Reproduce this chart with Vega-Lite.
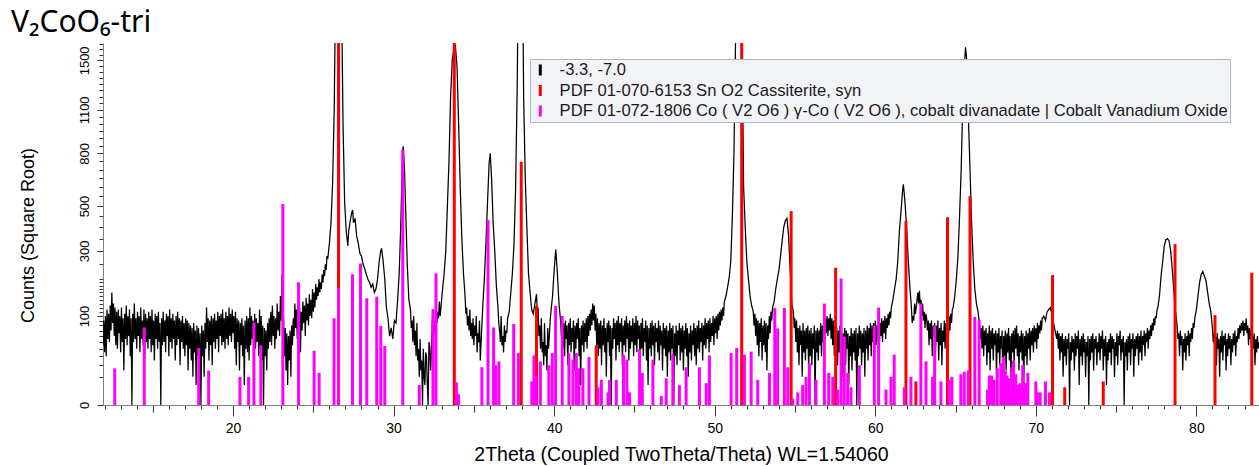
{
  "$schema": "https://vega.github.io/schema/vega-lite/v6.json",
  "width": 1156,
  "height": 362,
  "autosize": {"type": "none"},
  "padding": {"left": 103, "top": 43, "right": 0, "bottom": 61},
  "background": "white",
  "config": {"view": {"stroke": null}},
  "title": {"text": "V₂CoO₆-tri", "anchor": "start", "frame": "group", "dx": -92, "offset": 5, "font": "Noto Sans", "fontSize": 30, "fontWeight": "normal", "color": "#000000"},
  "datasets": {
    "profile": [
      {"t":11.9,"c":45},{"t":11.95,"c":90},{"t":12.0,"c":35},{"t":12.05,"c":100},{"t":12.1,"c":30},{"t":12.15,"c":115},{"t":12.2,"c":55},{"t":12.25,"c":105},{"t":12.3,"c":50},{"t":12.35,"c":125},
      {"t":12.4,"c":70},{"t":12.45,"c":160},{"t":12.5,"c":85},{"t":12.55,"c":130},{"t":12.6,"c":60},{"t":12.65,"c":120},{"t":12.7,"c":45},{"t":12.75,"c":110},{"t":12.8,"c":40},{"t":12.85,"c":115},
      {"t":12.9,"c":65},{"t":12.95,"c":100},{"t":13.0,"c":35},{"t":13.05,"c":120},{"t":13.1,"c":50},{"t":13.15,"c":95},{"t":13.2,"c":15},{"t":13.25,"c":105},{"t":13.3,"c":55},{"t":13.35,"c":125},
      {"t":13.4,"c":45},{"t":13.45,"c":100},{"t":13.5,"c":60},{"t":13.55,"c":115},{"t":13.6,"c":30},{"t":13.65,"c":95},{"t":13.7,"c":0},{"t":13.75,"c":105},{"t":13.8,"c":50},{"t":13.85,"c":130},
      {"t":13.9,"c":55},{"t":13.95,"c":95},{"t":14.0,"c":40},{"t":14.05,"c":110},{"t":14.1,"c":60},{"t":14.15,"c":100},{"t":14.2,"c":35},{"t":14.25,"c":120},{"t":14.3,"c":55},{"t":14.35,"c":90},
      {"t":14.4,"c":45},{"t":14.45,"c":115},{"t":14.5,"c":30},{"t":14.55,"c":105},{"t":14.6,"c":50},{"t":14.65,"c":95},{"t":14.7,"c":40},{"t":14.75,"c":110},{"t":14.8,"c":55},{"t":14.85,"c":100},
      {"t":14.9,"c":35},{"t":14.95,"c":115},{"t":15.0,"c":45},{"t":15.05,"c":90},{"t":15.1,"c":25},{"t":15.15,"c":105},{"t":15.2,"c":55},{"t":15.25,"c":100},{"t":15.3,"c":40},{"t":15.35,"c":110},
      {"t":15.4,"c":50},{"t":15.45,"c":85},{"t":15.5,"c":0},{"t":15.55,"c":95},{"t":15.6,"c":45},{"t":15.65,"c":110},{"t":15.7,"c":50},{"t":15.75,"c":90},{"t":15.8,"c":35},{"t":15.85,"c":105},
      {"t":15.9,"c":60},{"t":15.95,"c":100},{"t":16.0,"c":30},{"t":16.05,"c":115},{"t":16.1,"c":50},{"t":16.15,"c":95},{"t":16.2,"c":40},{"t":16.25,"c":105},{"t":16.3,"c":55},{"t":16.35,"c":90},
      {"t":16.4,"c":25},{"t":16.45,"c":100},{"t":16.5,"c":45},{"t":16.55,"c":110},{"t":16.6,"c":55},{"t":16.65,"c":95},{"t":16.7,"c":20},{"t":16.75,"c":90},{"t":16.8,"c":50},{"t":16.85,"c":100},
      {"t":16.9,"c":40},{"t":16.95,"c":85},{"t":17.0,"c":30},{"t":17.05,"c":95},{"t":17.1,"c":45},{"t":17.15,"c":90},{"t":17.2,"c":15},{"t":17.25,"c":85},{"t":17.3,"c":40},{"t":17.35,"c":80},
      {"t":17.4,"c":25},{"t":17.45,"c":75},{"t":17.5,"c":10},{"t":17.55,"c":85},{"t":17.6,"c":35},{"t":17.65,"c":70},{"t":17.7,"c":5},{"t":17.75,"c":80},{"t":17.8,"c":30},{"t":17.85,"c":75},
      {"t":17.9,"c":20},{"t":17.95,"c":65},{"t":18.0,"c":0},{"t":18.05,"c":80},{"t":18.1,"c":30},{"t":18.15,"c":70},{"t":18.2,"c":10},{"t":18.25,"c":85},{"t":18.3,"c":40},{"t":18.35,"c":120},
      {"t":18.4,"c":50},{"t":18.45,"c":95},{"t":18.5,"c":25},{"t":18.55,"c":90},{"t":18.6,"c":45},{"t":18.65,"c":100},{"t":18.7,"c":20},{"t":18.75,"c":95},{"t":18.8,"c":50},{"t":18.85,"c":105},
      {"t":18.9,"c":40},{"t":18.95,"c":90},{"t":19.0,"c":55},{"t":19.05,"c":110},{"t":19.1,"c":35},{"t":19.15,"c":100},{"t":19.2,"c":60},{"t":19.25,"c":105},{"t":19.3,"c":45},{"t":19.35,"c":115},
      {"t":19.4,"c":50},{"t":19.45,"c":95},{"t":19.5,"c":40},{"t":19.55,"c":110},{"t":19.6,"c":55},{"t":19.65,"c":100},{"t":19.7,"c":45},{"t":19.75,"c":120},{"t":19.8,"c":60},{"t":19.85,"c":105},
      {"t":19.9,"c":50},{"t":19.95,"c":115},{"t":20.0,"c":65},{"t":20.05,"c":100},{"t":20.1,"c":40},{"t":20.15,"c":110},{"t":20.2,"c":20},{"t":20.25,"c":95},{"t":20.3,"c":50},{"t":20.35,"c":90},
      {"t":20.4,"c":15},{"t":20.45,"c":85},{"t":20.5,"c":45},{"t":20.55,"c":95},{"t":20.6,"c":30},{"t":20.65,"c":80},{"t":20.7,"c":5},{"t":20.75,"c":90},{"t":20.8,"c":40},{"t":20.85,"c":100},
      {"t":20.9,"c":35},{"t":20.95,"c":95},{"t":21.0,"c":25},{"t":21.05,"c":120},{"t":21.1,"c":45},{"t":21.15,"c":100},{"t":21.2,"c":55},{"t":21.25,"c":90},{"t":21.3,"c":15},{"t":21.35,"c":105},
      {"t":21.4,"c":40},{"t":21.45,"c":95},{"t":21.5,"c":50},{"t":21.55,"c":85},{"t":21.6,"c":30},{"t":21.65,"c":115},{"t":21.7,"c":40},{"t":21.75,"c":100},{"t":21.8,"c":25},{"t":21.85,"c":80},
      {"t":21.9,"c":0},{"t":21.95,"c":75},{"t":22.0,"c":30},{"t":22.05,"c":70},{"t":22.1,"c":15},{"t":22.15,"c":85},{"t":22.2,"c":40},{"t":22.25,"c":95},{"t":22.3,"c":50},{"t":22.35,"c":110},
      {"t":22.4,"c":45},{"t":22.45,"c":125},{"t":22.5,"c":60},{"t":22.55,"c":100},{"t":22.6,"c":40},{"t":22.65,"c":95},{"t":22.7,"c":55},{"t":22.75,"c":130},{"t":22.8,"c":70},{"t":22.85,"c":110},
      {"t":22.9,"c":60},{"t":22.95,"c":150},{"t":23.0,"c":90},{"t":23.05,"c":215},{"t":23.1,"c":120},{"t":23.15,"c":90},{"t":23.2,"c":30},{"t":23.25,"c":75},{"t":23.3,"c":15},{"t":23.35,"c":65},
      {"t":23.4,"c":5},{"t":23.45,"c":60},{"t":23.5,"c":25},{"t":23.55,"c":70},{"t":23.6,"c":10},{"t":23.65,"c":80},{"t":23.7,"c":45},{"t":23.75,"c":95},{"t":23.8,"c":60},{"t":23.85,"c":130},
      {"t":23.9,"c":75},{"t":23.95,"c":115},{"t":24.0,"c":55},{"t":24.05,"c":140},{"t":24.1,"c":80},{"t":24.15,"c":120},{"t":24.2,"c":35},{"t":24.25,"c":110},{"t":24.3,"c":70},{"t":24.35,"c":135},
      {"t":24.4,"c":85},{"t":24.45,"c":125},{"t":24.5,"c":60},{"t":24.55,"c":145},{"t":24.6,"c":90},{"t":24.65,"c":130},{"t":24.7,"c":80},{"t":24.75,"c":155},{"t":24.8,"c":100},{"t":24.85,"c":140},
      {"t":24.9,"c":95},{"t":24.95,"c":170},{"t":25.0,"c":110},{"t":25.05,"c":160},{"t":25.1,"c":120},{"t":25.15,"c":185},{"t":25.2,"c":140},{"t":25.25,"c":175},{"t":25.3,"c":150},{"t":25.35,"c":200},
      {"t":25.4,"c":160},{"t":25.45,"c":190},{"t":25.5,"c":170},{"t":25.55,"c":215},{"t":25.6,"c":190},{"t":25.65,"c":230},{"t":25.7,"c":210},{"t":25.75,"c":250},{"t":25.8,"c":230},{"t":25.85,"c":280},
      {"t":25.9,"c":270},{"t":26.0,"c":330},{"t":26.1,"c":420},{"t":26.2,"c":620},{"t":26.3,"c":1100},{"t":26.4,"c":2400},{"t":26.5,"c":4500},{"t":26.58,"c":5200},{"t":26.65,"c":4500},{"t":26.75,"c":2200},{"t":26.85,"c":1000},{"t":26.95,"c":520},
      {"t":27.05,"c":380},{"t":27.15,"c":320},{"t":27.2,"c":380},{"t":27.3,"c":430},{"t":27.4,"c":470},{"t":27.45,"c":480},{"t":27.5,"c":420},{"t":27.6,"c":440},{"t":27.7,"c":360},{"t":27.8,"c":330},{"t":27.9,"c":290},
      {"t":28.0,"c":280},{"t":28.1,"c":250},{"t":28.2,"c":235},{"t":28.3,"c":215},{"t":28.4,"c":200},{"t":28.5,"c":190},{"t":28.6,"c":175},{"t":28.7,"c":185},{"t":28.8,"c":160},{"t":28.9,"c":170},
      {"t":29.0,"c":200},{"t":29.1,"c":260},{"t":29.2,"c":300},{"t":29.25,"c":310},{"t":29.35,"c":260},{"t":29.45,"c":200},{"t":29.55,"c":120},{"t":29.65,"c":95},{"t":29.75,"c":60},{"t":29.85,"c":75},{"t":29.95,"c":55},
      {"t":30.05,"c":90},{"t":30.15,"c":85},{"t":30.25,"c":140},{"t":30.35,"c":220},{"t":30.45,"c":420},{"t":30.55,"c":790},{"t":30.6,"c":845},{"t":30.68,"c":700},{"t":30.76,"c":460},{"t":30.85,"c":250},{"t":30.95,"c":140},
      {"t":31.05,"c":115},{"t":31.1,"c":75},{"t":31.15,"c":90},{"t":31.2,"c":50},{"t":31.25,"c":100},{"t":31.3,"c":45},{"t":31.35,"c":70},{"t":31.4,"c":30},{"t":31.45,"c":85},{"t":31.5,"c":25},{"t":31.55,"c":40},{"t":31.6,"c":10},{"t":31.65,"c":55},{"t":31.7,"c":15},{"t":31.75,"c":25},{"t":31.8,"c":0},{"t":31.85,"c":40},{"t":31.9,"c":10},{"t":31.95,"c":5},
      {"t":32.0,"c":35},{"t":32.05,"c":30},{"t":32.1,"c":5},{"t":32.15,"c":0},{"t":32.2,"c":50},{"t":32.25,"c":45},{"t":32.3,"c":15},{"t":32.35,"c":30},{"t":32.4,"c":80},{"t":32.45,"c":115},{"t":32.5,"c":60},{"t":32.55,"c":90},{"t":32.6,"c":70},{"t":32.65,"c":125},{"t":32.7,"c":85},{"t":32.75,"c":110},{"t":32.8,"c":95},{"t":32.85,"c":135},{"t":32.9,"c":100},{"t":32.95,"c":120},
      {"t":33.05,"c":170},{"t":33.15,"c":220},{"t":33.25,"c":300},{"t":33.35,"c":500},{"t":33.45,"c":750},{"t":33.55,"c":1200},{"t":33.65,"c":1500},{"t":33.75,"c":1600},{"t":33.85,"c":1625},{"t":33.95,"c":1450},
      {"t":34.05,"c":1000},{"t":34.15,"c":600},{"t":34.25,"c":350},{"t":34.35,"c":220},{"t":34.45,"c":150},{"t":34.5,"c":105},{"t":34.55,"c":120},{"t":34.6,"c":80},{"t":34.65,"c":100},{"t":34.7,"c":70},{"t":34.75,"c":115},{"t":34.8,"c":60},{"t":34.85,"c":85},{"t":34.9,"c":55},{"t":34.95,"c":95},
      {"t":35.0,"c":45},{"t":35.05,"c":80},{"t":35.1,"c":60},{"t":35.15,"c":100},{"t":35.2,"c":35},{"t":35.25,"c":65},{"t":35.3,"c":50},{"t":35.35,"c":90},{"t":35.4,"c":25},{"t":35.45,"c":50},{"t":35.5,"c":80},{"t":35.55,"c":120},
      {"t":35.65,"c":200},{"t":35.75,"c":330},{"t":35.85,"c":520},{"t":35.95,"c":740},{"t":36.02,"c":800},{"t":36.1,"c":650},{"t":36.2,"c":420},{"t":36.3,"c":300},{"t":36.4,"c":180},{"t":36.5,"c":120},
      {"t":36.55,"c":85},{"t":36.6,"c":70},{"t":36.65,"c":50},{"t":36.7,"c":100},{"t":36.75,"c":45},{"t":36.8,"c":60},{"t":36.85,"c":35},{"t":36.9,"c":80},{"t":36.95,"c":50},{"t":37.0,"c":70},{"t":37.05,"c":65},{"t":37.1,"c":95},
      {"t":37.2,"c":110},{"t":37.3,"c":160},{"t":37.4,"c":220},{"t":37.5,"c":330},{"t":37.6,"c":600},{"t":37.7,"c":1300},{"t":37.8,"c":3000},{"t":37.9,"c":4200},
      {"t":38.0,"c":3000},{"t":38.1,"c":1200},{"t":38.2,"c":650},{"t":38.3,"c":400},{"t":38.4,"c":220},{"t":38.5,"c":160},{"t":38.6,"c":115},{"t":38.7,"c":105},{"t":38.8,"c":130},{"t":38.9,"c":155},
      {"t":38.95,"c":110},{"t":39.0,"c":120},{"t":39.05,"c":60},{"t":39.1,"c":80},{"t":39.15,"c":40},{"t":39.2,"c":95},{"t":39.25,"c":35},{"t":39.3,"c":50},{"t":39.35,"c":20},{"t":39.4,"c":85},{"t":39.45,"c":30},{"t":39.5,"c":45},{"t":39.55,"c":15},{"t":39.6,"c":75},{"t":39.65,"c":40},{"t":39.7,"c":60},{"t":39.75,"c":90},
      {"t":39.8,"c":110},{"t":39.9,"c":150},{"t":40.0,"c":230},{"t":40.1,"c":305},{"t":40.2,"c":220},{"t":40.3,"c":130},
      {"t":40.4,"c":90},{"t":40.45,"c":60},{"t":40.5,"c":100},{"t":40.55,"c":40},{"t":40.6,"c":85},{"t":40.65,"c":30},{"t":40.7,"c":90},{"t":40.75,"c":55},{"t":40.8,"c":80},{"t":40.85,"c":20},
      {"t":40.9,"c":85},{"t":40.95,"c":45},{"t":41.0,"c":95},{"t":41.05,"c":35},{"t":41.1,"c":75},{"t":41.15,"c":50},{"t":41.2,"c":90},{"t":41.25,"c":15},{"t":41.3,"c":80},{"t":41.35,"c":40},
      {"t":41.4,"c":85},{"t":41.45,"c":55},{"t":41.5,"c":95},{"t":41.55,"c":30},{"t":41.6,"c":75},{"t":41.65,"c":5},{"t":41.7,"c":80},{"t":41.75,"c":45},{"t":41.8,"c":90},{"t":41.85,"c":35},
      {"t":41.9,"c":85},{"t":41.95,"c":50},{"t":42.0,"c":95},{"t":42.05,"c":40},{"t":42.1,"c":100},{"t":42.15,"c":60},{"t":42.2,"c":105},{"t":42.25,"c":70},{"t":42.3,"c":115},{"t":42.35,"c":80},
      {"t":42.4,"c":130},{"t":42.45,"c":90},{"t":42.5,"c":125},{"t":42.55,"c":70},{"t":42.6,"c":105},{"t":42.65,"c":45},{"t":42.7,"c":95},{"t":42.75,"c":30},{"t":42.8,"c":85},{"t":42.85,"c":40},
      {"t":42.9,"c":90},{"t":42.95,"c":20},{"t":43.0,"c":80},{"t":43.05,"c":45},{"t":43.1,"c":95},{"t":43.15,"c":35},{"t":43.2,"c":75},{"t":43.25,"c":10},{"t":43.3,"c":85},{"t":43.35,"c":50},
      {"t":43.4,"c":90},{"t":43.45,"c":30},{"t":43.5,"c":80},{"t":43.55,"c":0},{"t":43.6,"c":75},{"t":43.65,"c":40},{"t":43.7,"c":95},{"t":43.75,"c":55},{"t":43.8,"c":85},{"t":43.85,"c":25},
      {"t":43.9,"c":90},{"t":43.95,"c":45},{"t":44.0,"c":100},{"t":44.05,"c":35},{"t":44.1,"c":85},{"t":44.15,"c":50},{"t":44.2,"c":95},{"t":44.25,"c":20},{"t":44.3,"c":80},{"t":44.35,"c":45},
      {"t":44.4,"c":90},{"t":44.45,"c":35},{"t":44.5,"c":100},{"t":44.55,"c":55},{"t":44.6,"c":85},{"t":44.65,"c":25},{"t":44.7,"c":90},{"t":44.75,"c":40},{"t":44.8,"c":80},{"t":44.85,"c":50},
      {"t":44.9,"c":95},{"t":44.95,"c":30},{"t":45.0,"c":85},{"t":45.05,"c":45},{"t":45.1,"c":100},{"t":45.15,"c":35},{"t":45.2,"c":90},{"t":45.25,"c":55},{"t":45.3,"c":80},{"t":45.35,"c":15},
      {"t":45.4,"c":85},{"t":45.45,"c":40},{"t":45.5,"c":95},{"t":45.55,"c":30},{"t":45.6,"c":75},{"t":45.65,"c":50},{"t":45.7,"c":90},{"t":45.75,"c":25},{"t":45.8,"c":80},{"t":45.85,"c":5},
      {"t":45.9,"c":75},{"t":45.95,"c":40},{"t":46.0,"c":85},{"t":46.05,"c":30},{"t":46.1,"c":90},{"t":46.15,"c":45},{"t":46.2,"c":80},{"t":46.25,"c":20},{"t":46.3,"c":85},{"t":46.35,"c":50},
      {"t":46.4,"c":75},{"t":46.45,"c":35},{"t":46.5,"c":90},{"t":46.55,"c":25},{"t":46.6,"c":80},{"t":46.65,"c":45},{"t":46.7,"c":70},{"t":46.75,"c":15},{"t":46.8,"c":85},{"t":46.85,"c":40},
      {"t":46.9,"c":75},{"t":46.95,"c":30},{"t":47.0,"c":80},{"t":47.05,"c":10},{"t":47.1,"c":70},{"t":47.15,"c":35},{"t":47.2,"c":85},{"t":47.25,"c":25},{"t":47.3,"c":75},{"t":47.35,"c":40},
      {"t":47.4,"c":80},{"t":47.45,"c":0},{"t":47.5,"c":65},{"t":47.55,"c":30},{"t":47.6,"c":80},{"t":47.65,"c":20},{"t":47.7,"c":70},{"t":47.75,"c":45},{"t":47.8,"c":85},{"t":47.85,"c":25},
      {"t":47.9,"c":75},{"t":47.95,"c":35},{"t":48.0,"c":80},{"t":48.05,"c":15},{"t":48.1,"c":70},{"t":48.15,"c":40},{"t":48.2,"c":85},{"t":48.25,"c":30},{"t":48.3,"c":75},{"t":48.35,"c":10},
      {"t":48.4,"c":65},{"t":48.45,"c":35},{"t":48.5,"c":80},{"t":48.55,"c":25},{"t":48.6,"c":70},{"t":48.65,"c":45},{"t":48.7,"c":85},{"t":48.75,"c":30},{"t":48.8,"c":75},{"t":48.85,"c":20},
      {"t":48.9,"c":80},{"t":48.95,"c":40},{"t":49.0,"c":90},{"t":49.05,"c":35},{"t":49.1,"c":75},{"t":49.15,"c":50},{"t":49.2,"c":85},{"t":49.25,"c":25},{"t":49.3,"c":80},{"t":49.35,"c":45},
      {"t":49.4,"c":95},{"t":49.45,"c":40},{"t":49.5,"c":85},{"t":49.55,"c":55},{"t":49.6,"c":90},{"t":49.65,"c":35},{"t":49.7,"c":95},{"t":49.75,"c":50},{"t":49.8,"c":85},{"t":49.85,"c":60},
      {"t":49.9,"c":100},{"t":49.95,"c":45},{"t":50.0,"c":95},{"t":50.05,"c":65},{"t":50.1,"c":100},{"t":50.15,"c":55},{"t":50.2,"c":105},{"t":50.25,"c":70},{"t":50.3,"c":110},{"t":50.35,"c":80},
      {"t":50.4,"c":115},{"t":50.45,"c":90},{"t":50.5,"c":120},{"t":50.55,"c":100},{"t":50.6,"c":135},{"t":50.7,"c":150},{"t":50.8,"c":175},{"t":50.9,"c":205},
      {"t":51.0,"c":260},{"t":51.1,"c":450},{"t":51.2,"c":800},{"t":51.3,"c":1700},{"t":51.4,"c":3500},{"t":51.5,"c":4800},{"t":51.6,"c":3800},{"t":51.7,"c":1800},{"t":51.8,"c":600},{"t":51.9,"c":400},
      {"t":52.0,"c":260},{"t":52.1,"c":200},{"t":52.2,"c":150},{"t":52.3,"c":125},
      {"t":52.4,"c":110},{"t":52.45,"c":80},{"t":52.5,"c":105},{"t":52.55,"c":60},{"t":52.6,"c":95},{"t":52.65,"c":45},{"t":52.7,"c":90},{"t":52.75,"c":30},{"t":52.8,"c":85},{"t":52.85,"c":50},
      {"t":52.9,"c":95},{"t":52.95,"c":25},{"t":53.0,"c":80},{"t":53.05,"c":45},{"t":53.1,"c":90},{"t":53.15,"c":35},{"t":53.2,"c":85},{"t":53.25,"c":15},{"t":53.3,"c":80},{"t":53.35,"c":55},
      {"t":53.4,"c":100},{"t":53.45,"c":65},{"t":53.5,"c":110},{"t":53.55,"c":90},{"t":53.6,"c":120},{"t":53.7,"c":135},{"t":53.8,"c":170},{"t":53.9,"c":200},
      {"t":54.0,"c":230},{"t":54.1,"c":280},{"t":54.2,"c":340},{"t":54.3,"c":400},{"t":54.4,"c":430},{"t":54.5,"c":440},{"t":54.6,"c":360},{"t":54.7,"c":230},{"t":54.8,"c":130},
      {"t":54.9,"c":110},{"t":54.95,"c":75},{"t":55.0,"c":95},{"t":55.05,"c":50},{"t":55.1,"c":90},{"t":55.15,"c":35},{"t":55.2,"c":75},{"t":55.25,"c":20},{"t":55.3,"c":80},{"t":55.35,"c":45},
      {"t":55.4,"c":70},{"t":55.45,"c":10},{"t":55.5,"c":85},{"t":55.55,"c":35},{"t":55.6,"c":70},{"t":55.65,"c":25},{"t":55.7,"c":75},{"t":55.75,"c":40},{"t":55.8,"c":80},{"t":55.85,"c":15},
      {"t":55.9,"c":70},{"t":55.95,"c":30},{"t":56.0,"c":75},{"t":56.05,"c":20},{"t":56.1,"c":65},{"t":56.15,"c":40},{"t":56.2,"c":80},{"t":56.25,"c":0},{"t":56.3,"c":70},{"t":56.35,"c":35},
      {"t":56.4,"c":75},{"t":56.45,"c":25},{"t":56.5,"c":70},{"t":56.55,"c":45},{"t":56.6,"c":85},{"t":56.65,"c":30},{"t":56.7,"c":80},{"t":56.75,"c":50},{"t":56.8,"c":90},{"t":56.85,"c":55},
      {"t":56.9,"c":95},{"t":56.95,"c":65},{"t":57.0,"c":100},{"t":57.05,"c":60},{"t":57.1,"c":95},{"t":57.15,"c":70},{"t":57.2,"c":105},{"t":57.25,"c":55},{"t":57.3,"c":95},{"t":57.35,"c":45},
      {"t":57.4,"c":90},{"t":57.45,"c":30},{"t":57.5,"c":80},{"t":57.55,"c":40},{"t":57.6,"c":75},{"t":57.65,"c":20},{"t":57.7,"c":70},{"t":57.75,"c":35},{"t":57.8,"c":80},{"t":57.85,"c":25},
      {"t":57.9,"c":70},{"t":57.95,"c":10},{"t":58.0,"c":65},{"t":58.05,"c":35},{"t":58.1,"c":75},{"t":58.15,"c":20},{"t":58.2,"c":70},{"t":58.25,"c":40},{"t":58.3,"c":65},{"t":58.35,"c":5},
      {"t":58.4,"c":60},{"t":58.45,"c":30},{"t":58.5,"c":75},{"t":58.55,"c":15},{"t":58.6,"c":65},{"t":58.65,"c":35},{"t":58.7,"c":70},{"t":58.75,"c":25},{"t":58.8,"c":75},{"t":58.85,"c":0},
      {"t":58.9,"c":65},{"t":58.95,"c":30},{"t":59.0,"c":80},{"t":59.05,"c":40},{"t":59.1,"c":70},{"t":59.15,"c":20},{"t":59.2,"c":65},{"t":59.25,"c":35},{"t":59.3,"c":75},{"t":59.35,"c":10},
      {"t":59.4,"c":70},{"t":59.45,"c":40},{"t":59.5,"c":80},{"t":59.55,"c":25},{"t":59.6,"c":75},{"t":59.65,"c":45},{"t":59.7,"c":85},{"t":59.75,"c":30},{"t":59.8,"c":80},{"t":59.85,"c":50},
      {"t":59.9,"c":85},{"t":59.95,"c":35},{"t":60.0,"c":90},{"t":60.05,"c":45},{"t":60.1,"c":80},{"t":60.15,"c":55},{"t":60.2,"c":95},{"t":60.25,"c":40},{"t":60.3,"c":85},{"t":60.35,"c":60},
      {"t":60.4,"c":95},{"t":60.45,"c":50},{"t":60.5,"c":90},{"t":60.55,"c":65},{"t":60.6,"c":100},{"t":60.65,"c":55},{"t":60.7,"c":95},{"t":60.75,"c":75},{"t":60.8,"c":105},{"t":60.85,"c":80},
      {"t":60.9,"c":110},{"t":60.95,"c":95},{"t":61.0,"c":120},{"t":61.1,"c":140},{"t":61.2,"c":170},{"t":61.3,"c":200},{"t":61.4,"c":260},{"t":61.5,"c":380},{"t":61.6,"c":470},{"t":61.7,"c":580},{"t":61.75,"c":615},{"t":61.85,"c":520},{"t":61.95,"c":400},
      {"t":62.05,"c":270},{"t":62.15,"c":180},{"t":62.25,"c":120},{"t":62.3,"c":85},{"t":62.35,"c":100},{"t":62.4,"c":90},{"t":62.45,"c":130},{"t":62.5,"c":105},{"t":62.55,"c":120},{"t":62.6,"c":140},{"t":62.65,"c":160},{"t":62.7,"c":130},{"t":62.75,"c":165},{"t":62.8,"c":125},{"t":62.85,"c":140},{"t":62.9,"c":100},{"t":62.95,"c":130},
      {"t":63.0,"c":90},{"t":63.05,"c":110},{"t":63.1,"c":75},{"t":63.15,"c":105},
      {"t":63.2,"c":95},{"t":63.25,"c":70},{"t":63.3,"c":90},{"t":63.35,"c":45},{"t":63.4,"c":85},{"t":63.45,"c":55},{"t":63.5,"c":90},{"t":63.55,"c":30},{"t":63.6,"c":80},{"t":63.65,"c":60},
      {"t":63.7,"c":85},{"t":63.75,"c":35},{"t":63.8,"c":80},{"t":63.85,"c":50},{"t":63.9,"c":90},{"t":63.95,"c":25},{"t":64.0,"c":75},{"t":64.05,"c":45},{"t":64.1,"c":85},{"t":64.15,"c":20},
      {"t":64.2,"c":70},{"t":64.25,"c":50},{"t":64.3,"c":90},{"t":64.35,"c":40},{"t":64.4,"c":85},{"t":64.45,"c":60},{"t":64.5,"c":95},{"t":64.55,"c":45},{"t":64.6,"c":100},{"t":64.65,"c":70},
      {"t":64.7,"c":105},{"t":64.75,"c":85},{"t":64.8,"c":115},{"t":64.85,"c":120},{"t":64.95,"c":150},
      {"t":65.05,"c":200},{"t":65.15,"c":280},{"t":65.25,"c":450},{"t":65.35,"c":700},{"t":65.45,"c":1150},{"t":65.55,"c":1450},{"t":65.62,"c":1615},{"t":65.7,"c":1500},{"t":65.8,"c":1050},{"t":65.9,"c":700},
      {"t":66.0,"c":420},{"t":66.1,"c":260},{"t":66.2,"c":170},{"t":66.3,"c":130},{"t":66.4,"c":110},
      {"t":66.5,"c":80},{"t":66.55,"c":55},{"t":66.6,"c":75},{"t":66.65,"c":40},{"t":66.7,"c":80},{"t":66.75,"c":30},{"t":66.8,"c":70},{"t":66.85,"c":45},{"t":66.9,"c":75},{"t":66.95,"c":20},
      {"t":67.0,"c":65},{"t":67.05,"c":35},{"t":67.1,"c":80},{"t":67.15,"c":15},{"t":67.2,"c":70},{"t":67.25,"c":40},{"t":67.3,"c":75},{"t":67.35,"c":25},{"t":67.4,"c":65},{"t":67.45,"c":45},
      {"t":67.5,"c":70},{"t":67.55,"c":10},{"t":67.6,"c":65},{"t":67.65,"c":35},{"t":67.7,"c":75},{"t":67.75,"c":20},{"t":67.8,"c":60},{"t":67.85,"c":40},{"t":67.9,"c":70},{"t":67.95,"c":0},
      {"t":68.0,"c":60},{"t":68.05,"c":30},{"t":68.1,"c":70},{"t":68.15,"c":15},{"t":68.2,"c":65},{"t":68.25,"c":35},{"t":68.3,"c":75},{"t":68.35,"c":25},{"t":68.4,"c":60},{"t":68.45,"c":10},
      {"t":68.5,"c":65},{"t":68.55,"c":35},{"t":68.6,"c":70},{"t":68.65,"c":20},{"t":68.7,"c":75},{"t":68.75,"c":40},{"t":68.8,"c":80},{"t":68.85,"c":30},{"t":68.9,"c":65},{"t":68.95,"c":15},
      {"t":69.0,"c":60},{"t":69.05,"c":35},{"t":69.1,"c":70},{"t":69.15,"c":25},{"t":69.2,"c":65},{"t":69.25,"c":5},{"t":69.3,"c":60},{"t":69.35,"c":30},{"t":69.4,"c":70},{"t":69.45,"c":20},
      {"t":69.5,"c":65},{"t":69.55,"c":40},{"t":69.6,"c":75},{"t":69.65,"c":25},{"t":69.7,"c":70},{"t":69.75,"c":45},{"t":69.8,"c":75},{"t":69.85,"c":35},{"t":69.9,"c":80},{"t":69.95,"c":50},
      {"t":70.0,"c":75},{"t":70.05,"c":40},{"t":70.1,"c":85},{"t":70.15,"c":55},{"t":70.2,"c":80},{"t":70.25,"c":65},{"t":70.3,"c":90},{"t":70.35,"c":70},{"t":70.4,"c":95},
      {"t":70.5,"c":100},{"t":70.6,"c":90},{"t":70.7,"c":110},{"t":70.8,"c":115},{"t":70.9,"c":120},{"t":71.0,"c":105},{"t":71.1,"c":85},{"t":71.2,"c":70},
      {"t":71.3,"c":55},{"t":71.35,"c":70},{"t":71.4,"c":40},{"t":71.45,"c":65},{"t":71.5,"c":25},{"t":71.55,"c":60},{"t":71.6,"c":35},{"t":71.65,"c":65},{"t":71.7,"c":10},{"t":71.75,"c":55},
      {"t":71.8,"c":30},{"t":71.85,"c":60},{"t":71.9,"c":20},{"t":71.95,"c":55},{"t":72.0,"c":40},{"t":72.05,"c":65},{"t":72.1,"c":0},{"t":72.15,"c":50},{"t":72.2,"c":25},{"t":72.25,"c":60},
      {"t":72.3,"c":35},{"t":72.35,"c":55},{"t":72.4,"c":15},{"t":72.45,"c":65},{"t":72.5,"c":30},{"t":72.55,"c":60},{"t":72.6,"c":40},{"t":72.65,"c":70},{"t":72.7,"c":5},{"t":72.75,"c":55},
      {"t":72.8,"c":30},{"t":72.85,"c":60},{"t":72.9,"c":20},{"t":72.95,"c":65},{"t":73.0,"c":35},{"t":73.05,"c":55},{"t":73.1,"c":10},{"t":73.15,"c":50},{"t":73.2,"c":30},{"t":73.25,"c":60},
      {"t":73.3,"c":0},{"t":73.35,"c":55},{"t":73.4,"c":25},{"t":73.45,"c":60},{"t":73.5,"c":35},{"t":73.55,"c":65},{"t":73.6,"c":15},{"t":73.65,"c":55},{"t":73.7,"c":40},{"t":73.75,"c":60},
      {"t":73.8,"c":20},{"t":73.85,"c":50},{"t":73.9,"c":35},{"t":73.95,"c":65},{"t":74.0,"c":25},{"t":74.05,"c":60},{"t":74.1,"c":40},{"t":74.15,"c":70},{"t":74.2,"c":15},{"t":74.25,"c":55},
      {"t":74.3,"c":30},{"t":74.35,"c":60},{"t":74.4,"c":5},{"t":74.45,"c":50},{"t":74.5,"c":25},{"t":74.55,"c":55},{"t":74.6,"c":35},{"t":74.65,"c":65},{"t":74.7,"c":20},{"t":74.75,"c":60},
      {"t":74.8,"c":40},{"t":74.85,"c":55},{"t":74.9,"c":10},{"t":74.95,"c":50},{"t":75.0,"c":30},{"t":75.05,"c":65},{"t":75.1,"c":20},{"t":75.15,"c":60},{"t":75.2,"c":45},{"t":75.25,"c":70},
      {"t":75.3,"c":25},{"t":75.35,"c":55},{"t":75.4,"c":35},{"t":75.45,"c":60},{"t":75.5,"c":0},{"t":75.55,"c":50},{"t":75.6,"c":30},{"t":75.65,"c":55},{"t":75.7,"c":15},{"t":75.75,"c":60},
      {"t":75.8,"c":35},{"t":75.85,"c":65},{"t":75.9,"c":20},{"t":75.95,"c":55},{"t":76.0,"c":40},{"t":76.05,"c":65},{"t":76.1,"c":10},{"t":76.15,"c":55},{"t":76.2,"c":30},{"t":76.25,"c":60},
      {"t":76.3,"c":40},{"t":76.35,"c":65},{"t":76.4,"c":20},{"t":76.45,"c":60},{"t":76.5,"c":35},{"t":76.55,"c":70},{"t":76.6,"c":25},{"t":76.65,"c":60},{"t":76.7,"c":45},{"t":76.75,"c":70},
      {"t":76.8,"c":30},{"t":76.85,"c":65},{"t":76.9,"c":50},{"t":76.95,"c":75},{"t":77.0,"c":40},{"t":77.05,"c":70},{"t":77.1,"c":55},{"t":77.15,"c":80},{"t":77.2,"c":60},{"t":77.25,"c":85},
      {"t":77.3,"c":70},{"t":77.35,"c":95},{"t":77.4,"c":80},{"t":77.45,"c":100},{"t":77.5,"c":95},{"t":77.55,"c":115},{"t":77.6,"c":120},{"t":77.7,"c":150},{"t":77.8,"c":210},{"t":77.9,"c":260},
      {"t":78.0,"c":320},{"t":78.1,"c":345},{"t":78.2,"c":350},{"t":78.3,"c":340},{"t":78.4,"c":300},{"t":78.5,"c":230},{"t":78.6,"c":160},{"t":78.7,"c":110},
      {"t":78.8,"c":80},{"t":78.85,"c":55},{"t":78.9,"c":65},{"t":78.95,"c":30},{"t":79.0,"c":70},{"t":79.05,"c":45},{"t":79.1,"c":60},{"t":79.15,"c":15},{"t":79.2,"c":55},{"t":79.25,"c":35},
      {"t":79.3,"c":65},{"t":79.35,"c":25},{"t":79.4,"c":60},{"t":79.45,"c":45},{"t":79.5,"c":70},{"t":79.55,"c":30},{"t":79.6,"c":65},{"t":79.65,"c":50},{"t":79.7,"c":75},{"t":79.75,"c":55},
      {"t":79.8,"c":85},{"t":79.85,"c":75},{"t":79.9,"c":95},
      {"t":80.0,"c":115},{"t":80.1,"c":150},{"t":80.2,"c":190},{"t":80.3,"c":215},{"t":80.4,"c":225},{"t":80.5,"c":210},{"t":80.6,"c":195},{"t":80.7,"c":160},{"t":80.8,"c":130},{"t":80.9,"c":110},
      {"t":81.0,"c":75},{"t":81.05,"c":50},{"t":81.1,"c":65},{"t":81.15,"c":35},{"t":81.2,"c":60},{"t":81.25,"c":20},{"t":81.3,"c":65},{"t":81.35,"c":40},{"t":81.4,"c":55},{"t":81.45,"c":10},
      {"t":81.5,"c":60},{"t":81.55,"c":35},{"t":81.6,"c":70},{"t":81.65,"c":25},{"t":81.7,"c":60},{"t":81.75,"c":45},{"t":81.8,"c":65},{"t":81.85,"c":15},{"t":81.9,"c":55},{"t":81.95,"c":30},
      {"t":82.0,"c":65},{"t":82.05,"c":40},{"t":82.1,"c":60},{"t":82.15,"c":20},{"t":82.2,"c":55},{"t":82.25,"c":35},{"t":82.3,"c":65},{"t":82.35,"c":45},{"t":82.4,"c":70},{"t":82.45,"c":30},
      {"t":82.5,"c":60},{"t":82.55,"c":50},{"t":82.6,"c":75},{"t":82.65,"c":55},{"t":82.7,"c":80},{"t":82.75,"c":65},{"t":82.8,"c":85},{"t":82.85,"c":70},{"t":82.9,"c":90},{"t":82.95,"c":60},
      {"t":83.0,"c":85},{"t":83.05,"c":70},{"t":83.1,"c":95},{"t":83.15,"c":65},{"t":83.2,"c":80},{"t":83.25,"c":45},{"t":83.3,"c":75},{"t":83.35,"c":55},{"t":83.4,"c":70},{"t":83.45,"c":30},
      {"t":83.5,"c":60},{"t":83.55,"c":40},{"t":83.6,"c":65},{"t":83.65,"c":20},{"t":83.7,"c":55},{"t":83.75,"c":35},{"t":83.8,"c":60},{"t":83.85,"c":40},{"t":83.9,"c":50}
    ],
    "sticks": [
      {"t":26.57,"c":5000,"s":"r"},{"t":33.78,"c":4000,"s":"r"},{"t":37.95,"c":747,"s":"r"},{"t":38.9,"c":124,"s":"r"},{"t":42.62,"c":45,"s":"r"},
      {"t":51.68,"c":3000,"s":"r"},{"t":54.76,"c":475,"s":"r"},{"t":57.53,"c":238,"s":"r"},{"t":61.91,"c":427,"s":"r"},{"t":62.53,"c":7,"s":"r"},
      {"t":64.5,"c":445,"s":"r"},{"t":65.9,"c":551,"s":"r"},{"t":69.2,"c":7,"s":"r"},{"t":71.04,"c":213,"s":"r"},{"t":71.8,"c":4,"s":"r"},
      {"t":74.2,"c":7,"s":"r"},{"t":78.67,"c":327,"s":"r"},{"t":81.16,"c":102,"s":"r"},{"t":83.45,"c":221,"s":"r"},
      {"t":12.63,"c":17,"s":"m"},{"t":14.47,"c":76,"s":"m"},{"t":17.86,"c":41,"s":"m"},{"t":18.48,"c":15,"s":"m"},{"t":20.43,"c":10,"s":"m"},
      {"t":20.97,"c":10,"s":"m"},{"t":21.3,"c":86,"s":"m"},{"t":21.73,"c":45,"s":"m"},{"t":23.1,"c":510,"s":"m"},{"t":24.08,"c":190,"s":"m"},
      {"t":25.05,"c":37,"s":"m"},{"t":25.36,"c":13,"s":"m"},{"t":26.29,"c":95,"s":"m"},{"t":26.57,"c":172,"s":"m"},{"t":27.44,"c":216,"s":"m"},
      {"t":27.94,"c":253,"s":"m"},{"t":28.33,"c":144,"s":"m"},{"t":28.95,"c":148,"s":"m"},{"t":29.2,"c":79,"s":"m"},{"t":29.45,"c":44,"s":"m"},
      {"t":30.57,"c":821,"s":"m"},{"t":31.6,"c":5,"s":"m"},{"t":32.45,"c":116,"s":"m"},{"t":32.64,"c":219,"s":"m"},{"t":33.91,"c":6.5,"s":"m"},
      {"t":34.05,"c":1.5,"s":"m"},{"t":35.5,"c":18,"s":"m"},{"t":35.88,"c":432,"s":"m"},{"t":36.23,"c":76,"s":"m"},{"t":36.36,"c":20,"s":"m"},
      {"t":36.56,"c":24,"s":"m"},{"t":37.48,"c":83,"s":"m"},{"t":37.77,"c":34,"s":"m"},{"t":38.61,"c":7,"s":"m"},{"t":38.74,"c":31,"s":"m"},
      {"t":38.88,"c":11,"s":"m"},{"t":39.14,"c":24,"s":"m"},{"t":39.67,"c":20,"s":"m"},{"t":39.88,"c":34,"s":"m"},{"t":40.09,"c":124,"s":"m"},
      {"t":40.5,"c":100,"s":"m"},{"t":40.92,"c":34,"s":"m"},{"t":41.17,"c":26,"s":"m"},{"t":41.38,"c":34,"s":"m"},{"t":41.54,"c":17,"s":"m"},
      {"t":41.79,"c":17,"s":"m"},{"t":42.17,"c":29,"s":"m"},{"t":42.73,"c":4,"s":"m"},{"t":42.94,"c":8,"s":"m"},{"t":43.35,"c":2,"s":"m"},
      {"t":43.45,"c":8,"s":"m"},{"t":43.87,"c":8,"s":"m"},{"t":44.32,"c":32,"s":"m"},{"t":44.53,"c":26,"s":"m"},{"t":44.7,"c":2,"s":"m"},
      {"t":45.32,"c":39,"s":"m"},{"t":45.49,"c":13,"s":"m"},{"t":46.15,"c":26,"s":"m"},{"t":46.67,"c":1,"s":"m"},{"t":46.98,"c":9,"s":"m"},
      {"t":47.39,"c":32,"s":"m"},{"t":47.8,"c":5,"s":"m"},{"t":48.22,"c":18,"s":"m"},{"t":49.05,"c":18,"s":"m"},{"t":49.47,"c":6,"s":"m"},
      {"t":49.67,"c":31,"s":"m"},{"t":51.02,"c":34,"s":"m"},{"t":51.37,"c":41,"s":"m"},{"t":51.85,"c":32,"s":"m"},{"t":52.27,"c":36,"s":"m"},
      {"t":52.68,"c":8,"s":"m"},{"t":53.41,"c":13,"s":"m"},{"t":53.74,"c":119,"s":"m"},{"t":53.92,"c":74,"s":"m"},{"t":54.34,"c":119,"s":"m"},
      {"t":54.55,"c":18,"s":"m"},{"t":54.86,"c":0.5,"s":"m"},{"t":55.17,"c":2,"s":"m"},{"t":55.48,"c":5,"s":"m"},{"t":55.69,"c":10,"s":"m"},
      {"t":55.9,"c":22,"s":"m"},{"t":56.31,"c":8,"s":"m"},{"t":56.83,"c":130,"s":"m"},{"t":57.1,"c":13,"s":"m"},{"t":57.35,"c":10,"s":"m"},
      {"t":57.66,"c":3,"s":"m"},{"t":57.87,"c":202,"s":"m"},{"t":58.07,"c":59,"s":"m"},{"t":58.28,"c":13,"s":"m"},{"t":58.49,"c":4,"s":"m"},
      {"t":59.01,"c":20,"s":"m"},{"t":59.94,"c":79,"s":"m"},{"t":60.21,"c":120,"s":"m"},{"t":60.67,"c":3,"s":"m"},{"t":60.98,"c":10,"s":"m"},
      {"t":61.18,"c":32,"s":"m"},{"t":61.81,"c":4,"s":"m"},{"t":62.22,"c":10,"s":"m"},{"t":62.84,"c":130,"s":"m"},{"t":63.16,"c":24,"s":"m"},
      {"t":63.57,"c":10,"s":"m"},{"t":63.7,"c":80,"s":"m"},{"t":64.09,"c":7,"s":"m"},{"t":64.6,"c":8,"s":"m"},{"t":64.77,"c":10,"s":"m"},
      {"t":65.33,"c":12,"s":"m"},{"t":65.54,"c":14,"s":"m"},{"t":65.79,"c":15,"s":"m"},{"t":66.2,"c":98,"s":"m"},{"t":66.47,"c":91,"s":"m"},
      {"t":66.99,"c":3,"s":"m"},{"t":67.1,"c":11,"s":"m"},{"t":67.25,"c":11,"s":"m"},{"t":67.4,"c":8,"s":"m"},{"t":67.6,"c":17,"s":"m"},
      {"t":67.82,"c":22,"s":"m"},{"t":67.98,"c":29,"s":"m"},{"t":68.1,"c":15,"s":"m"},{"t":68.2,"c":11,"s":"m"},{"t":68.35,"c":9,"s":"m"},
      {"t":68.5,"c":18,"s":"m"},{"t":68.61,"c":25,"s":"m"},{"t":68.75,"c":12,"s":"m"},{"t":68.86,"c":5,"s":"m"},{"t":69.0,"c":6,"s":"m"},
      {"t":69.18,"c":20,"s":"m"},{"t":69.27,"c":1,"s":"m"},{"t":69.35,"c":6,"s":"m"},{"t":69.5,"c":13,"s":"m"},{"t":70.0,"c":7,"s":"m"},
      {"t":70.1,"c":2,"s":"m"},{"t":70.27,"c":2,"s":"m"},{"t":70.6,"c":7,"s":"m"},{"t":70.85,"c":2,"s":"m"}
    ]
  },
  "encoding": {
    "x": {"field": "t", "type": "quantitative",
      "scale": {"domain": [11.9, 83.9], "nice": false, "zero": false},
      "axis": {
        "title": "2Theta (Coupled TwoTheta/Theta) WL=1.54060",
        "values": [12,13,14,15,16,17,18,19,20,21,22,23,24,25,26,27,28,29,30,31,32,33,34,35,36,37,38,39,40,41,42,43,44,45,46,47,48,49,50,51,52,53,54,55,56,57,58,59,60,61,62,63,64,65,66,67,68,69,70,71,72,73,74,75,76,77,78,79,80,81,82,83],
        "labelExpr": "datum.value % 10 == 0 ? datum.label : ''",
        "tickSize": {"condition": [{"test": "datum.value % 10 == 0", "value": 11}, {"test": "datum.value % 5 == 0", "value": 7}], "value": 4},
        "labelPadding": 5, "labelOverlap": false,
        "labelFont": "Liberation Sans", "labelFontSize": 14, "labelColor": "#000000",
        "titleFont": "Liberation Sans", "titleFontSize": 19.5, "titleFontWeight": "normal", "titleColor": "#000000",
        "titleY": 49, "titleBaseline": "middle",
        "domainColor": "#808080", "tickColor": "#333333", "tickWidth": 1, "grid": false, "labelFlush": false
      }
    },
    "y": {"field": "c", "type": "quantitative",
      "scale": {"type": "sqrt", "domain": [0, 1655], "nice": false, "zero": true},
      "axis": {
        "title": "Counts (Square Root)",
        "format": "d",
        "values": [0,10,20,30,40,50,60,70,80,90,100,110,120,130,140,150,160,170,180,190,200,250,300,350,400,450,500,550,600,650,700,750,800,850,900,950,1000,1050,1100,1150,1200,1250,1300,1350,1400,1450,1500,1550,1600,1650],
        "labelExpr": "indexof([0,100,300,500,800,1100,1500], datum.value) >= 0 ? datum.label : ''",
        "tickSize": {"condition": {"test": "indexof([0,100,300,500,800,1100,1500], datum.value) >= 0", "value": 6}, "value": 4},
        "labelAngle": -90, "labelAlign": "center", "labelBaseline": "bottom", "labelPadding": 6,
        "labelFont": "Liberation Sans", "labelFontSize": 13, "labelColor": "#000000",
        "titleFont": "Liberation Sans", "titleFontSize": 18, "titleFontWeight": "normal", "titleColor": "#000000",
        "titleX": -75, "titleY": 192, "titleAngle": -90, "titleAlign": "center", "titleBaseline": "middle",
        "domainColor": "#808080", "tickColor": "#333333", "tickWidth": 1, "grid": false, "labelFlush": false, "labelOverlap": false
      }
    }
  },
  "layer": [
    {
      "data": {"name": "profile"},
      "mark": {"type": "line", "strokeWidth": 1.25, "clip": true},
      "encoding": {
        "color": {"datum": "k", "type": "nominal",
          "scale": {"domain": ["k", "r", "m"], "range": ["#000000", "#ff0000", "#ff00ff"]},
          "legend": {
            "orient": "none", "legendX": 427, "legendY": 16, "title": null, "direction": "vertical",
            "fillColor": "#f1f3f6", "strokeColor": "#a7b6c9", "padding": 2, "cornerRadius": 0,
            "symbolType": "M0,-1L0,1", "symbolSize": 121, "symbolStrokeWidth": 3, "clipHeight": 18,
            "labelFont": "Liberation Sans", "labelFontSize": 16.6, "labelColor": "#1a1a1a", "labelLimit": 1000,
            "rowPadding": 2.5, "labelOffset": 11,
            "labelExpr": "datum.label == 'k' ? '-3.3, -7.0' : datum.label == 'r' ? 'PDF 01-070-6153 Sn O2 Cassiterite, syn' : 'PDF 01-072-1806 Co ( V2 O6 ) γ-Co ( V2 O6 ), cobalt divanadate | Cobalt Vanadium Oxide\u00a0\u00a0\u00a0\u00a0\u00a0\u00a0'"
          }
        }
      }
    },
    {
      "data": {"name": "sticks"},
      "mark": {"type": "rule", "strokeWidth": 3, "clip": true, "strokeCap": "butt"},
      "encoding": {
        "y2": {"datum": 0},
        "color": {"field": "s", "type": "nominal", "title": null,
          "legend": {
            "orient": "none", "legendX": 427, "legendY": 16, "title": null, "direction": "vertical",
            "fillColor": "#f1f3f6", "strokeColor": "#a7b6c9", "padding": 2, "cornerRadius": 0,
            "symbolType": "M0,-1L0,1", "symbolSize": 121, "symbolStrokeWidth": 3, "clipHeight": 18,
            "labelFont": "Liberation Sans", "labelFontSize": 16.6, "labelColor": "#1a1a1a", "labelLimit": 1000,
            "rowPadding": 2.5, "labelOffset": 11,
            "labelExpr": "datum.label == 'k' ? '-3.3, -7.0' : datum.label == 'r' ? 'PDF 01-070-6153 Sn O2 Cassiterite, syn' : 'PDF 01-072-1806 Co ( V2 O6 ) γ-Co ( V2 O6 ), cobalt divanadate | Cobalt Vanadium Oxide\u00a0\u00a0\u00a0\u00a0\u00a0\u00a0'"
          }
        }
      }
    }
  ]
}
